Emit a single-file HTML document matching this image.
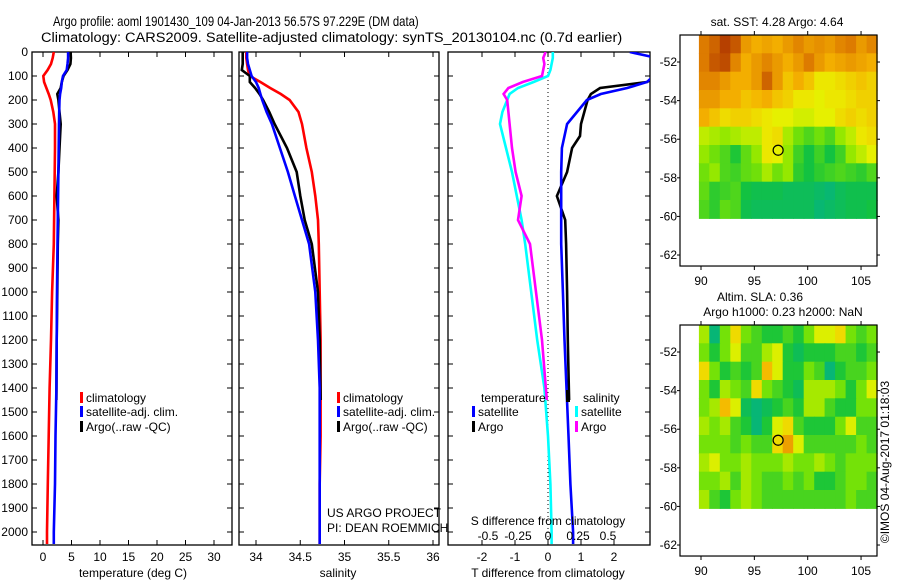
<!DOCTYPE html>
<html><head><meta charset="utf-8"><style>
html,body{margin:0;padding:0;background:#fff}
svg{display:block;font-family:"Liberation Sans",sans-serif}
</style></head><body>
<svg id="chart" width="900" height="580" viewBox="0 0 900 580" xmlns="http://www.w3.org/2000/svg">
<text x="0" y="0" font-size="14" transform="translate(53,26) scale(0.81,1)">Argo profile: aoml 1901430_109 04-Jan-2013 56.57S 97.229E (DM data)</text>
<text x="0" y="0" font-size="14" transform="translate(41,42) scale(1.04,1)">Climatology: CARS2009. Satellite-adjusted climatology: synTS_20130104.nc (0.7d earlier)</text>
<g id="g"></g>
</svg>
<script>
// ---- profile data ----
const depthClim = [0,25,50,75,100,125,150,175,200,250,300,400,500,600,700,800,1000,1200,1400,1600,1800,2000,2050];
const depthArgo = [0,25,50,75,100,125,150,175,200,250,300,350,400,500,600,700,800,1000,1200,1450];
const climT = [1.9,1.7,1.4,0.8,0.05,0.2,0.6,1.0,1.35,1.8,2.1,2.1,2.05,2.0,1.95,1.9,1.6,1.4,1.15,1.0,0.85,0.7,0.7];
const satT  = [4.4,4.4,4.3,4.15,3.5,3.3,3.2,3.0,2.9,2.85,2.8,2.75,2.7,2.65,2.6,2.55,2.45,2.4,2.35,2.2,2.1,1.9,1.9];
const argoT = [4.85,4.9,4.8,4.3,3.6,3.3,3.1,2.5,2.7,2.9,3.1,3.0,2.9,2.7,2.4,2.7,2.6,2.5,2.4,2.35];
const climS = [33.89,33.89,33.9,33.91,33.93,34.05,34.16,34.28,34.38,34.48,34.52,34.57,34.63,34.67,34.70,34.71,34.72,34.73,34.73,34.73,34.72,34.72,34.72];
const satS  = [33.9,33.9,33.91,33.93,33.95,34.0,34.03,34.05,34.07,34.12,34.18,34.27,34.36,34.44,34.52,34.6,34.67,34.70,34.72,34.72,34.72,34.72,34.72];
const argoS = [33.85,33.85,33.85,33.84,33.93,33.93,33.99,34.04,34.08,34.15,34.21,34.28,34.35,34.46,34.50,34.55,34.63,34.70,34.72,34.73];
const satDT  = [2.48,3.3,3.5,3.4,3.2,3.0,2.4,1.6,1.18,0.88,0.58,0.42,0.40,0.40,0.40,0.40,0.45,0.5,0.56,0.62,0.68,0.76,0.76];
const argoDT = [3.5,3.5,3.5,3.4,3.3,3.0,1.58,1.3,1.2,1.1,1.0,0.97,0.73,0.58,0.27,0.52,0.55,0.58,0.6,0.64];
const satDS  = [0.04,0.04,0.03,0.02,0.0,-0.12,-0.25,-0.32,-0.34,-0.38,-0.40,-0.35,-0.30,-0.26,-0.22,-0.19,-0.14,-0.09,-0.03,0.0,0.02,0.03,0.03];
const argoDS = [-0.02,-0.04,-0.03,-0.04,-0.05,-0.21,-0.33,-0.37,-0.34,-0.33,-0.32,-0.31,-0.30,-0.27,-0.22,-0.25,-0.15,-0.1,-0.05,-0.01];
const depthTicks = [0,100,200,300,400,500,600,700,800,900,1000,1100,1200,1300,1400,1500,1600,1700,1800,1900,2000];
const tTicks = [0,5,10,15,20,25,30];
const sTicks = [34,34.5,35,35.5,36];
const sTickLabels = ["34","34.5","35","35.5","36"];
const dTTicks = [-2,-1,0,1,2];
const dSTicks = [-0.5,-0.25,0,0.25,0.5];
const dSTickLabels = ["-0.5","-0.25","0","0.25","0.5"];
// ---- map data ----
const sstRows = [
[6.3,6.5,6.8,6.6,6.0,5.8,5.9,5.8,6.0,6.2,6.0,6.1,6.0,6.2,6.3,6.0,6.2],
[6.3,6.6,6.7,6.2,5.8,6.0,6.2,6.0,5.8,6.0,6.3,6.0,5.8,5.9,6.0,5.9,5.8],
[6.2,6.2,6.0,5.8,5.8,6.0,6.5,6.0,5.6,5.8,5.6,5.3,5.3,5.4,5.5,5.6,5.5],
[6.0,6.0,5.8,5.8,5.6,5.7,5.8,5.6,5.5,5.3,5.3,5.2,5.3,5.3,5.4,5.5,5.5],
[5.8,5.6,5.4,5.5,5.5,5.4,5.3,5.2,5.2,5.1,5.1,5.2,5.2,5.4,5.5,5.4,5.5],
[5.0,4.9,4.8,4.9,5.0,5.0,5.3,5.4,4.9,4.6,4.4,4.6,4.4,4.8,5.0,5.3,5.4],
[4.8,4.6,4.4,4.1,4.5,4.8,5.3,5.2,4.8,4.3,4.0,4.3,4.0,4.3,4.8,5.0,5.2],
[4.6,4.8,4.4,4.3,4.5,4.6,4.9,4.6,4.8,4.2,4.0,4.2,4.3,4.4,4.3,4.2,4.4],
[4.5,4.2,4.3,4.4,4.0,3.9,3.9,3.9,3.8,3.8,3.8,3.7,3.6,3.8,3.9,3.9,3.9],
[4.4,4.2,4.5,4.4,3.9,3.8,3.8,3.8,3.8,3.8,3.8,3.6,3.7,3.8,3.9,3.9,4.0]];
const slaRows = [
[0.1,-0.4,0.0,0.3,0.0,-0.1,-0.2,-0.2,-0.1,-0.2,0.0,0.2,0.2,0.3,0.0,-0.1,0.0],
[0.0,-0.2,0.0,0.2,-0.1,-0.1,0.1,0.2,-0.2,-0.3,-0.2,-0.2,-0.2,-0.1,-0.1,-0.2,-0.1],
[0.3,0.0,-0.2,-0.1,-0.2,-0.1,0.4,0.2,-0.2,-0.2,0.0,-0.1,-0.4,-0.2,-0.1,-0.1,0.0],
[0.0,-0.2,0.1,0.0,-0.1,0.3,0.0,-0.1,-0.2,-0.3,0.1,0.1,0.1,0.0,-0.2,0.0,0.2],
[0.0,0.1,0.4,0.2,-0.3,-0.4,-0.3,-0.2,-0.1,-0.2,0.1,0.1,-0.1,-0.2,-0.2,0.0,0.0],
[0.1,0.0,0.1,-0.1,-0.2,-0.4,-0.2,0.2,0.3,-0.1,-0.2,-0.2,-0.2,0.0,0.2,-0.1,-0.1],
[0.0,0.0,0.0,-0.1,0.0,-0.1,-0.1,0.3,0.5,0.2,-0.1,-0.1,-0.1,-0.1,-0.1,0.0,-0.1],
[0.1,0.2,0.0,0.0,0.1,0.0,0.0,0.0,0.1,0.0,0.0,0.1,0.0,-0.1,0.0,0.0,0.0],
[0.0,0.0,0.1,-0.1,0.1,0.0,-0.1,-0.1,0.0,-0.1,0.0,-0.2,-0.2,-0.1,0.0,0.0,-0.1],
[0.1,-0.1,-0.2,0.0,0.1,0.0,-0.1,-0.1,-0.1,-0.1,-0.1,-0.1,-0.1,-0.1,0.0,-0.1,-0.1]];
const lonTicks = [90,95,100,105];
const latTicks = [-52,-54,-56,-58,-60,-62];
const floatLon = 97.229, floatLat = -56.57;

const NS="http://www.w3.org/2000/svg";
const G=document.getElementById('g');
function mk(tag,attrs,parent){const e=document.createElementNS(NS,tag);for(const k in attrs)e.setAttribute(k,attrs[k]);(parent||G).appendChild(e);return e;}
function txt(s,x,y,anchor,size,parent){const t=mk('text',{x:x,y:y,'text-anchor':anchor||'start','font-size':size||12},parent);t.textContent=s;return t;}

const TOP=52, BOT=545;
const yD=d=>TOP+d*0.24;
const xT=v=>43+v*5.7;
const xS=v=>256+(v-34)*88.5;
const xDT=v=>548+v*33;
const xDS=v=>548+v*120;

function box(x0,x1,name){const r=mk('rect',{x:x0,y:TOP,width:x1-x0,height:BOT-TOP,fill:'none',stroke:'#000','stroke-width':1.3});}
function clip(id,x0,x1){const c=mk('clipPath',{id:id});mk('rect',{x:x0,y:TOP,width:x1-x0,height:BOT-TOP},c);}
function line(xs,ds,xf,color,name,cl,w){
  const pts=xs.map((v,i)=>xf(v).toFixed(1)+','+yD(ds[i]).toFixed(1)).join(' ');
  const p=mk('polyline',{points:pts,fill:'none',stroke:color,'stroke-width':w||2.6,'stroke-linejoin':'miter'});
  if(cl)p.setAttribute('clip-path','url(#'+cl+')');
  
}
function yTicks(x0,x1,labels){
  depthTicks.forEach(d=>{const y=yD(d);
    mk('line',{x1:x0,y1:y,x2:x0+5,y2:y,stroke:'#000'});mk('line',{x1:x1-5,y1:y,x2:x1,y2:y,stroke:'#000'});
    if(labels){const t=txt(String(d),x0-4,y+4,'end',12);}
  });
}
function xTicks(vals,f){vals.forEach(v=>{const x=f(v);mk('line',{x1:x,y1:TOP,x2:x,y2:TOP+5,stroke:'#000'});mk('line',{x1:x,y1:BOT-5,x2:x,y2:BOT,stroke:'#000'});});}

clip('c1',32,232);clip('c2',239,439);clip('c3',448,650);
box(32,232,'temperature-panel');yTicks(32,232,true);xTicks(tTicks,xT);
tTicks.forEach(v=>{const t=txt(String(v),xT(v),561,'middle',12);});
let t=txt('temperature (deg C)',133,577,'middle',12);
line(climT,depthClim,xT,'#ff0000','climatology-temperature-line','c1');
line(argoT,depthArgo,xT,'#000000','argo-temperature-line','c1');
line(satT,depthClim,xT,'#0000ff','satellite-temperature-line','c1');

box(239,439,'salinity-panel');yTicks(239,439,false);xTicks(sTicks,xS);
sTicks.forEach((v,i)=>{const t=txt(sTickLabels[i],xS(v),561,'middle',12);});
t=txt('salinity',338,577,'middle',12);
line(climS,depthClim,xS,'#ff0000','climatology-salinity-line','c2');
line(argoS,depthArgo,xS,'#000000','argo-salinity-line','c2');
line(satS,depthClim,xS,'#0000ff','satellite-salinity-line','c2');

box(448,650,'difference-panel');yTicks(448,650,false);xTicks(dTTicks,xDT);
mk('line',{x1:548,y1:TOP,x2:548,y2:BOT,stroke:'#000','stroke-dasharray':'1,3'});
line(satDS,depthClim,xDS,'#00ffff','satellite-salinity-diff-line','c3');
line(argoDS,depthArgo,xDS,'#ff00ff','argo-salinity-diff-line','c3');
line(argoDT,depthArgo,xDT,'#000000','argo-temperature-diff-line','c3');
line(satDT,depthClim,xDT,'#0000ff','satellite-temperature-diff-line','c3');
dTTicks.forEach(v=>{const t=txt(String(v),xDT(v),561,'middle',12);});
dSTicks.forEach((v,i)=>{const t=txt(dSTickLabels[i],xDS(v),540,'middle',12);});
t=txt('S difference from climatology',548,525,'middle',12);
t=txt('T difference from climatology',548,577,'middle',12);

function leg(x,y,color,label,name){
  const g=mk('g',{});
  mk('rect',{x:x,y:y-10,width:3,height:11,fill:color},g);txt(label,x+6,y,'start',12,g);
}
leg(80,402,'#ff0000','climatology','legend-climatology');
leg(80,416,'#0000ff','satellite-adj. clim.','legend-satellite-adj');
leg(80,431,'#000','Argo(..raw -QC)','legend-argo');
leg(337,402,'#ff0000','climatology','legend-climatology-s');
leg(337,416,'#0000ff','satellite-adj. clim.','legend-satellite-adj-s');
leg(337,431,'#000','Argo(..raw -QC)','legend-argo-s');
t=txt('temperature',481,402,'start',12);
t=txt('salinity',583,402,'start',12);
leg(472,416,'#0000ff','satellite','legend-t-satellite');
leg(472,431,'#000','Argo','legend-t-argo');
leg(575,416,'#00ffff','satellite','legend-s-satellite');
leg(575,431,'#ff00ff','Argo','legend-s-argo');
mk('rect',{x:566,y:390,width:4,height:12,fill:'#000'});
t=txt('US ARGO PROJECT',327,517,'start',12);
t=txt('PI: DEAN ROEMMICH',327,532,'start',12);

function lerp(a,b,f){return a.map((v,i)=>Math.round(v+(b[i]-v)*f));}
function cmap(stops,f){f=Math.max(0,Math.min(1,f));for(let i=1;i<stops.length;i++){if(f<=stops[i][0]){const a=stops[i-1],b=stops[i];const c=lerp(a[1],b[1],(f-a[0])/(b[0]-a[0]));return 'rgb('+c.join(',')+')';}}return 'rgb('+stops[stops.length-1][1].join(',')+')';}
const stops=[[0,[0,175,150]],[0.2,[20,195,60]],[0.38,[130,230,0]],[0.52,[235,240,0]],[0.66,[245,180,0]],[0.82,[220,120,0]],[1,[165,40,0]]];
function drawMap(top,rows,vmin,vmax,name){
  const lonX=l=>701+(l-90)*10.67;
  const latY=l=>top+( -50.6 - l)*19.3;
  const g=mk('g',{});
  const nr=rows.length,nc=rows[0].length;
  const lon0=89.8,lon1=106.5,lat0=-50.6,lat1=-60.1;
  const dl=(lon1-lon0)/nc, dt=(lat0-lat1)/nr;
  rows.forEach((row,r)=>row.forEach((v,c)=>{
    const x=lonX(lon0+c*dl),y=latY(lat0-r*dt);
    const cell=mk('rect',{x:x.toFixed(1),y:y.toFixed(1),width:(dl*10.67+0.6).toFixed(1),height:(dt*19.3+0.6).toFixed(1),fill:cmap(stops,(v-vmin)/(vmax-vmin))},g);
    
    
  }));
  const bx0=680,bx1=877,by0=top,by1=latY(-62.57);
  mk('rect',{x:bx0,y:by0,width:bx1-bx0,height:by1-by0,fill:'none',stroke:'#000','stroke-width':1.2},g);
  lonTicks.forEach(l=>{const x=lonX(l);mk('line',{x1:x,y1:by0-4,x2:x,y2:by0,stroke:'#000'},g);mk('line',{x1:x,y1:by1,x2:x,y2:by1+4,stroke:'#000'},g);
    const tl=txt(String(l),x,by1+19,'middle',12,g);});
  latTicks.forEach(l=>{const y=latY(l);mk('line',{x1:bx0-3,y1:y,x2:bx0,y2:y,stroke:'#000'},g);mk('line',{x1:bx1,y1:y,x2:bx1+3,y2:y,stroke:'#000'},g);
    const tl=txt(String(l),677,y+4,'end',12,g);});
  const cc=mk('circle',{cx:lonX(floatLon),cy:latY(floatLat),r:5,fill:'none',stroke:'#000','stroke-width':1.2},g);
  
}
drawMap(35,sstRows,3.3,7.0,'sst-map');
drawMap(325,slaRows,-0.5,0.9,'sla-map');
t=txt('sat. SST: 4.28 Argo: 4.64',777,26,'middle',12);
t=txt('Altim. SLA: 0.36',760,301,'middle',12);
t=txt('Argo h1000: 0.23 h2000: NaN',783,316,'middle',12);
t=txt('©IMOS 04-Aug-2017 01:18:03',0,0,'middle',12);t.setAttribute('transform','translate(889,462) rotate(-90)');

</script>
</body></html>
